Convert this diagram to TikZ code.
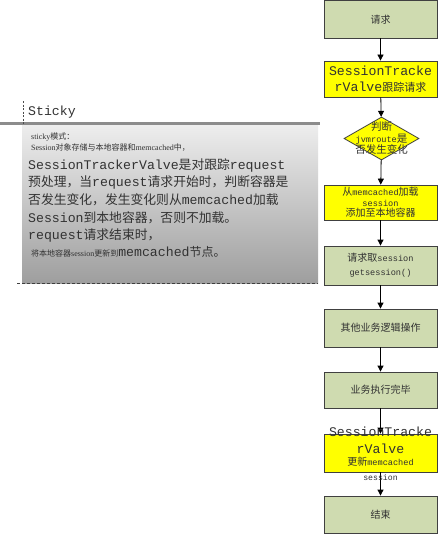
\documentclass[tikz,border=0pt]{standalone}
\usepackage{fontspec}
\setmainfont{Liberation Serif}
\setmonofont{Liberation Mono}
\newfontfamily\cjk{Noto Sans CJK SC}
\usetikzlibrary{shapes.geometric,arrows.meta,shadings}
\definecolor{boxgreen}{RGB}{207,219,176}
\definecolor{boxyellow}{RGB}{255,255,0}
\definecolor{bargray}{RGB}{140,140,140}
\definecolor{txt}{RGB}{50,50,50}
\newcommand\tmb[1]{{\ttfamily\fontsize{13.2}{15}\selectfont #1}}
\newcommand\cjb[1]{{\cjk\fontsize{12.8}{15}\selectfont #1}}
\newcommand\cjs[1]{{\cjk\fontsize{8}{10}\selectfont #1}}
\newcommand\sers[1]{{\rmfamily\fontsize{8}{10}\selectfont #1}}
\newcommand\bl[1]{{\ttfamily\fontsize{8.6}{10}\selectfont #1}}
\tikzset{
  flowbox/.style={draw=black!75, line width=0.8pt, minimum width=113pt, inner sep=0pt, text=txt, align=center},
  greenbox/.style={flowbox, fill=boxgreen},
  yellowbox/.style={flowbox, fill=boxyellow},
  decide/.style={diamond, draw=black!75, line width=0.8pt, fill=boxyellow, minimum width=75pt, minimum height=43pt, inner sep=0pt},
  flowarrow/.style={draw=black, line width=0.8pt, -{Triangle[length=6pt,width=6pt]}},
  paneltext/.style={anchor=west, inner sep=0pt, text=txt},
  boxtext/.style={align=center, inner sep=0pt, text=txt},
}
\begin{document}
\begin{tikzpicture}[x=1pt,y=-1pt]
\fill[white] (0,0) rectangle (439,535);
\useasboundingbox (0,0) rectangle (439,535);

% left panel
\shade[top color=black!7, bottom color=black!38] (22,125) rectangle (318,283);
\fill[bargray] (0,122) rectangle (320,125);
\draw[black!70, line width=0.8pt, dash pattern=on 2pt off 1.5pt] (23,101) -- (23,125);
\draw[black!75, line width=1pt, dash pattern=on 3pt off 2pt] (17,283.5) -- (318,283.5);
\node[paneltext] (title) at (28,112) {\tmb{Sticky}};
\node[paneltext] (l1) at (31,137) {\sers{sticky}\cjs{模式：}};
\node[paneltext] (l2) at (31,148) {\sers{Session}\cjs{对象存储与本地容器和}\sers{memcached}\cjs{中，}};
\node[paneltext] (l3) at (28,165) {\tmb{SessionTrackerValve}\cjb{是对跟踪}\tmb{request}};
\node[paneltext] (l4) at (28,182.5) {\cjb{预处理，当}\tmb{request}\cjb{请求开始时，判断容器是}};
\node[paneltext] (l5) at (28,200) {\cjb{否发生变化，发生变化则从}\tmb{memcached}\cjb{加载}};
\node[paneltext] (l6) at (28,217.5) {\tmb{Session}\cjb{到本地容器，否则不加载。}};
\node[paneltext] (l7) at (28,235) {\tmb{request}\cjb{请求结束时，}};
\node[paneltext] (l8) at (31,252) {\cjs{将本地容器}\sers{session}\cjs{更新到}\tmb{memcached}{\cjk\fontsize{12}{14}\selectfont 节点。}};

% flow chart
\node[greenbox, minimum height=37.5pt, font=\cjk\fontsize{10}{12}\selectfont] (b1) at (380.5,19.25) {请求};
\node[yellowbox, minimum height=36pt, font=\cjk\fontsize{11}{16}\selectfont] (b2) at (380.5,79) {\tmb{SessionTracke}\\\tmb{rValve}跟踪请求};
\node[decide] (d3) at (381.5,138.5) {};
\node[yellowbox, minimum height=35pt] (b4) at (380.5,202.5) {};
\node[greenbox, minimum height=39pt, font=\cjk\fontsize{10}{14}\selectfont] (b5) at (380.5,265.5) {请求取\bl{session}\\\bl{getsession()}};
\node[greenbox, minimum height=38pt, font=\cjk\fontsize{10}{12}\selectfont] (b6) at (380.5,328) {其他业务逻辑操作};
\node[greenbox, minimum height=36pt, font=\cjk\fontsize{10}{12}\selectfont] (b7) at (380.5,390) {业务执行完毕};
\node[yellowbox, minimum height=38pt] (b8) at (380.5,453) {};
\node[greenbox, minimum height=37pt, font=\cjk\fontsize{10}{12}\selectfont] (b9) at (380.5,514.5) {结束};

\draw[flowarrow] (b1) -- (b2);
\draw[flowarrow] (b2) -- (d3);
\draw[flowarrow] (d3) -- (b4);
\draw[flowarrow] (b4) -- (b5);
\draw[flowarrow] (b5) -- (b6);
\draw[flowarrow] (b6) -- (b7);
\draw[flowarrow] (b7) -- (b8);
\draw[flowarrow] (b8) -- (b9);

% texts that run over their shapes
\node[boxtext, font=\cjk\fontsize{10.5}{11.5}\selectfont] (d3t) at (381.5,138.5) {判断\\\bl{jvmroute}是\\否发生变化};
\node[boxtext, font=\cjk\fontsize{10}{10.5}\selectfont] (b4t) at (380.5,202.5) {从\bl{memcached}加载\\\bl{session}\\添加至本地容器};
\node[boxtext, font=\cjk\fontsize{10}{12}\selectfont] (b8t) at (380.5,454) {\tmb{SessionTracke}\\[5pt]\tmb{rValve}\\更新\bl{memcached}\\[3pt]{\ttfamily\fontsize{8.2}{10}\selectfont session}};
\end{tikzpicture}
\end{document}
